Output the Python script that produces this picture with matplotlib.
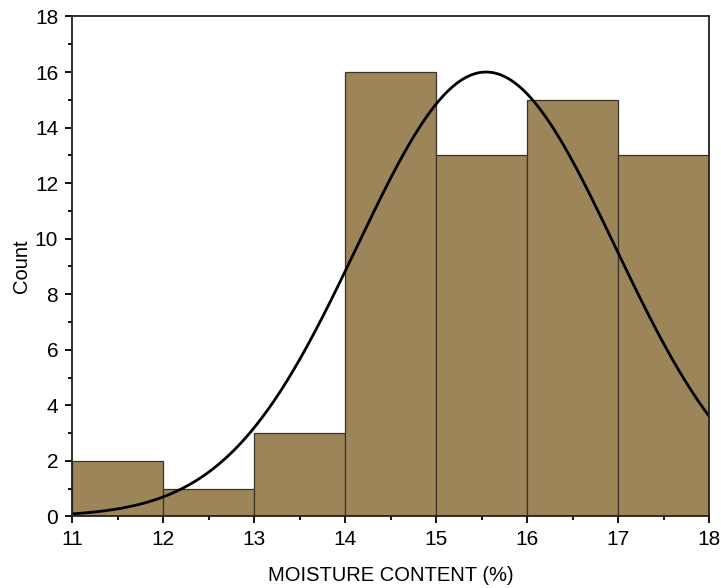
import numpy as np
import matplotlib
matplotlib.use("Agg")
import matplotlib.pyplot as plt

plt.rcParams['font.family'] = ['Liberation Sans', 'DejaVu Sans']

bin_edges = [11, 12, 13, 14, 15, 16, 17, 18]
counts = [2, 1, 3, 16, 13, 15, 13]
fit_mean = 15.55
fit_sigma = 1.42
fit_peak = 16.0

fig = plt.figure(figsize=(7.21, 5.88), dpi=100)
ax = fig.add_axes([0.0999, 0.1216, 0.8835, 0.8504])

lefts = np.array(bin_edges[:-1])
widths = np.diff(bin_edges)
ax.bar(lefts, counts, width=widths, align='edge', color='#9C8558',
       edgecolor='#3a3428', linewidth=0.9)

xs = np.linspace(bin_edges[0], bin_edges[-1], 400)
ys = fit_peak * np.exp(-(xs - fit_mean) ** 2 / (2 * fit_sigma ** 2))
ax.plot(xs, ys, color='black', linewidth=2)

ax.set_xlim(11, 18)
ax.set_ylim(0, 18)
ax.set_xticks(range(11, 19))
ax.set_yticks(range(0, 19, 2))
ax.set_xticks(np.arange(11.5, 18, 1), minor=True)
ax.set_yticks(range(1, 18, 2), minor=True)
ax.tick_params(axis='both', which='major', direction='out', length=5, width=1.3,
               labelsize=15, top=False, right=False, pad=5)
ax.tick_params(axis='both', which='minor', direction='out', length=3, width=1.3,
               top=False, right=False)
for s in ax.spines.values():
    s.set_linewidth(1.3)
    s.set_color('#222222')

ax.set_xlabel('MOISTURE CONTENT (%)', fontsize=14.5, labelpad=12)
ax.set_ylabel('Count', fontsize=14.5, labelpad=3)

fig.savefig('out.png', dpi=100)
